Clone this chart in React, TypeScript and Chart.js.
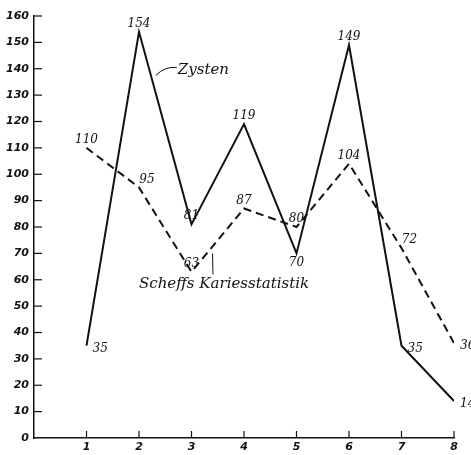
import React, { useEffect, useRef } from 'react';
import { Chart, registerables } from 'chart.js';

Chart.register(...registerables);

const xValues = [1, 2, 3, 4, 5, 6, 7, 8];
const zystenValues = [35, 154, 81, 119, 70, 149, 35, 14];
const scheffsValues = [110, 95, 63, 87, 80, 104, 72, 36];
const zystenName = 'Zysten';
const scheffsName = 'Scheffs Kariesstatistik';
// where each value label sits relative to its point
const zystenLabelPos = ['r', 't', 't', 't', 'b', 't', 'r', 'r'];
const scheffsLabelPos = ['t', 'tr', 't', 't', 't', 't', 'tr', 'r'];

const INK = '#111';
const NUM_FONT = 'italic 12px "DejaVu Serif"';
const TICK_FONT = 'italic bold 11px "DejaVu Sans"';

const annotationPlugin = {
  id: 'annotations',
  afterDraw(chart: any) {
    const { ctx, scales, chartArea } = chart;
    const xs = scales.x;
    const ys = scales.y;
    ctx.save();
    ctx.strokeStyle = INK;
    ctx.lineWidth = 1.2;
    // inward tick marks
    ys.ticks.forEach((t: any) => {
      if (t.value === 0) return;
      const y = ys.getPixelForValue(t.value);
      ctx.beginPath();
      ctx.moveTo(chartArea.left, y);
      ctx.lineTo(chartArea.left + 8, y);
      ctx.stroke();
    });
    xs.ticks.forEach((t: any) => {
      if (t.value === 0) return;
      const x = xs.getPixelForValue(t.value);
      ctx.beginPath();
      ctx.moveTo(x, chartArea.bottom);
      ctx.lineTo(x, chartArea.bottom - 7);
      ctx.stroke();
    });

    // value labels
    ctx.fillStyle = INK;
    ctx.font = NUM_FONT;
    const posSets = [zystenLabelPos, scheffsLabelPos];
    chart.data.datasets.forEach((ds: any, di: number) => {
      const meta = chart.getDatasetMeta(di);
      meta.data.forEach((pt: any, i: number) => {
        const txt = String(ds.data[i].y);
        const pos = posSets[di][i];
        let x = pt.x;
        let y = pt.y;
        if (pos === 't') {
          ctx.textAlign = 'center';
          y -= 8;
        } else if (pos === 'tr') {
          ctx.textAlign = 'center';
          x += 8;
          y -= 8;
        } else if (pos === 'b') {
          ctx.textAlign = 'center';
          y += 9;
        } else {
          ctx.textAlign = 'left';
          x += 6;
          y += 3;
        }
        ctx.textBaseline = 'middle';
        ctx.fillText(txt, x, y);
      });
    });

    // series names with leader strokes
    ctx.font = 'italic 15px "DejaVu Serif"';
    ctx.textAlign = 'left';
    ctx.textBaseline = 'middle';
    ctx.fillText(zystenName, xs.getPixelForValue(2.74), ys.getPixelForValue(139.5));
    ctx.fillText(scheffsName, xs.getPixelForValue(2.0), ys.getPixelForValue(58.2));

    ctx.lineWidth = 1;
    ctx.beginPath();
    ctx.moveTo(xs.getPixelForValue(2.32), ys.getPixelForValue(137.5));
    ctx.quadraticCurveTo(
      xs.getPixelForValue(2.5), ys.getPixelForValue(141),
      xs.getPixelForValue(2.72), ys.getPixelForValue(140.5)
    );
    ctx.stroke();
    ctx.beginPath();
    ctx.moveTo(xs.getPixelForValue(3.41), ys.getPixelForValue(62));
    ctx.lineTo(xs.getPixelForValue(3.40), ys.getPixelForValue(70));
    ctx.stroke();
    ctx.restore();
  },
};

export default function App() {
  const ref = useRef<HTMLCanvasElement | null>(null);
  useEffect(() => {
    if (!ref.current) return;
    const chart = new Chart(ref.current, {
      type: 'line',
      data: {
        datasets: [
          {
            label: zystenName,
            data: xValues.map((x, i) => ({ x, y: zystenValues[i] })),
            borderColor: INK,
            borderWidth: 2,
            pointRadius: 0,
            tension: 0,
            fill: false,
          },
          {
            label: scheffsName,
            data: xValues.map((x, i) => ({ x, y: scheffsValues[i] })),
            borderColor: INK,
            borderWidth: 2,
            borderDash: [8, 5],
            pointRadius: 0,
            tension: 0,
            fill: false,
          },
        ],
      },
      options: {
        animation: false,
        responsive: false,
        layout: { padding: { top: 16, right: 17, left: 0, bottom: 0 } },
        plugins: {
          legend: { display: false },
          tooltip: { enabled: false },
        },
        scales: {
          x: {
            type: 'linear',
            min: 0,
            max: 8,
            ticks: {
              stepSize: 1,
              color: INK,
              font: { family: 'DejaVu Sans', style: 'italic', weight: 'bold', size: 11 },
              padding: 3,
              maxRotation: 0,
              callback: (v: any) => (v === 0 ? '' : String(v)),
            },
            grid: { display: false, drawTicks: false },
            border: { display: true, color: INK, width: 1.5 },
            afterFit: (s: any) => {
              s.height = 17;
            },
          },
          y: {
            min: 0,
            max: 160,
            ticks: {
              stepSize: 10,
              color: INK,
              font: { family: 'DejaVu Sans', style: 'italic', weight: 'bold', size: 11 },
              padding: 5,
            },
            grid: { display: false, drawTicks: false },
            border: { display: true, color: INK, width: 1.5 },
            afterFit: (s: any) => {
              s.width = 34;
            },
          },
        },
      },
      plugins: [annotationPlugin],
    });
    return () => chart.destroy();
  }, []);
  return (
    <div style={{ position: 'fixed', left: 0, top: 0, width: 471, height: 455, background: '#fff' }}>
      <canvas ref={ref} width={471} height={455} style={{ width: 471, height: 455 }} />
    </div>
  );
}
